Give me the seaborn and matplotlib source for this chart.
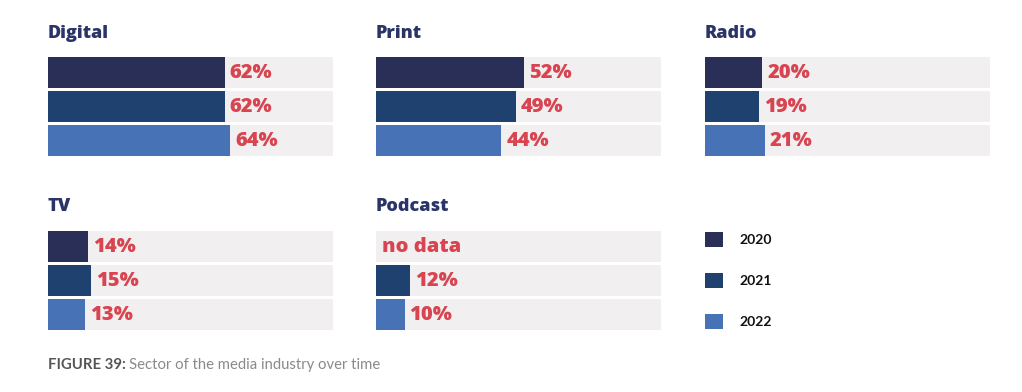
import numpy as np
import pandas as pd
import matplotlib.pyplot as plt
import seaborn as sns
from matplotlib.patches import Patch

# Data
sectors = ["Digital", "Print", "Radio", "TV", "Podcast"]
years = ["2020", "2021", "2022"]
digital = [62, 62, 64]
print_ = [52, 49, 44]
radio = [20, 19, 21]
tv = [14, 15, 13]
podcast = [np.nan, 12, 10]  # no data for 2020

year_colors = ["#292F56", "#1E416F", "#4872B6"]
track_color = "#F1EFF0"
label_red = "#D8444F"
title_navy = "#2B3467"

rows = []
for name, vals in zip(sectors, [digital, print_, radio, tv, podcast]):
    for y, v in zip(years, vals):
        rows.append({"sector": name, "year": y, "value": v})
df = pd.DataFrame(rows)

sns.set_style("white")
plt.rcParams["font.family"] = ["Lato", "DejaVu Sans"]
bold_family = ["Open Sans", "DejaVu Sans"]

W, H = 1022, 392
fig = plt.figure(figsize=(W / 100, H / 100), dpi=100)

# panel placement in pixels (left, top)
panel_pos = {
    "Digital": (48, 57),
    "Print": (376, 57),
    "Radio": (705, 57),
    "TV": (48, 231),
    "Podcast": (376, 231),
}
pw, ph = 285, 99
bar_h = 31 / 34
pad = (1 - bar_h) / 2

for name in sectors:
    left, top = panel_pos[name]
    ax = fig.add_axes([left / W, 1 - (top + ph) / H, pw / W, ph / H])
    sub = df[df["sector"] == name]

    # grey tracks behind the bars
    ax.barh(range(len(years)), 100, height=bar_h, color=track_color,
            linewidth=0, zorder=0)
    sns.barplot(data=sub, x="value", y="year", hue="year", order=years,
                hue_order=years, palette=year_colors, orient="h",
                width=bar_h, saturation=1, linewidth=0, legend=False,
                ax=ax, zorder=2)

    for i, v in enumerate(sub["value"]):
        if np.isnan(v):
            ax.text(2, i, "no data", va="center", ha="left", color=label_red,
                    fontsize=14.5, fontweight="heavy", family=bold_family)
        else:
            ax.text(v + 1.8, i, f"{v:.0f}%", va="center", ha="left", color=label_red,
                    fontsize=14.5, fontweight="heavy", family=bold_family)

    ax.set_xlim(0, 100)
    ax.set_ylim(len(years) - 0.5 - pad, -0.5 + pad)
    ax.axis("off")

    fig.text(left / W, 1 - (top - 24) / H, name, va="center", ha="left",
             color=title_navy, fontsize=13, fontweight="heavy", family=bold_family)

# legend
handles = [Patch(facecolor=c, edgecolor="none") for c in year_colors]
leg = fig.legend(handles, years, loc="upper left", bbox_to_anchor=(705 / W, 1 - 232 / H),
                 frameon=False, prop={"weight": "bold", "size": 10},
                 handlelength=1.3, handleheight=1.3, handletextpad=1.2,
                 labelspacing=1.85, borderaxespad=0, borderpad=0)
for t in leg.get_texts():
    t.set_color("#111111")

# caption
cap = fig.text(48 / W, 1 - 365 / H, "FIGURE 39:", va="center", ha="left",
               color="#555555", fontsize=10.7, fontweight="bold")
fig.canvas.draw()
bb = cap.get_window_extent()
fig.text((bb.x1 + 3) / W, 1 - 365 / H, "Sector of the media industry over time",
         va="center", ha="left", color="#8A8A8A", fontsize=10.7)

plt.savefig("out.png", dpi=100)
plt.close()
